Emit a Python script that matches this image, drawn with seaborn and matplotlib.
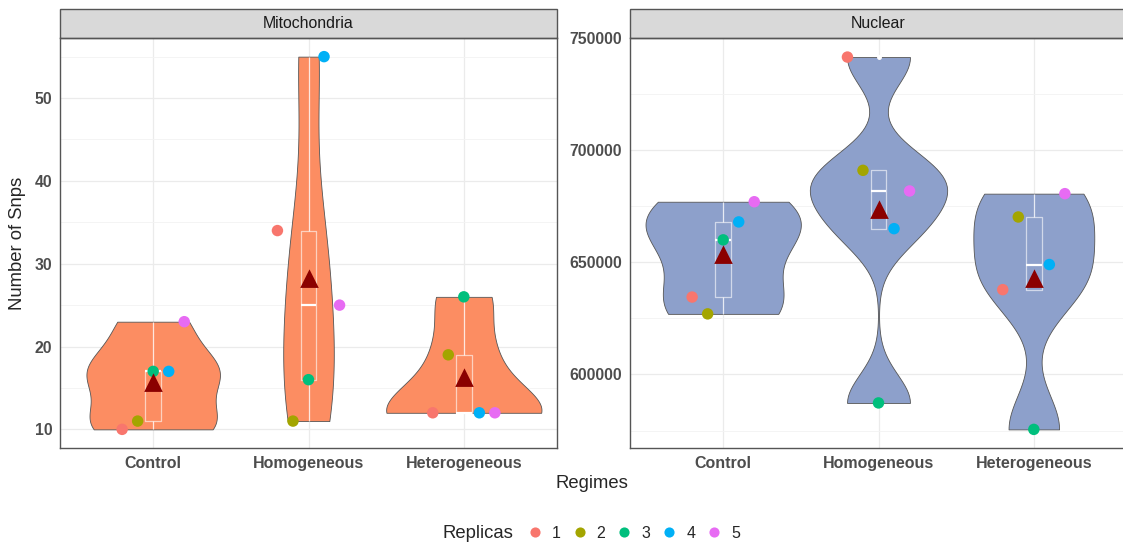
import numpy as np
import pandas as pd
import matplotlib
matplotlib.use("Agg")
import matplotlib.pyplot as plt
from matplotlib.lines import Line2D
from matplotlib.patches import Rectangle
from matplotlib.ticker import FixedLocator
import seaborn as sns

regimes = ["Control", "Homogeneous", "Heterogeneous"]
replicas = ["1", "2", "3", "4", "5"]

# number of snps per replica (1..5)
mito_control = [10, 11, 17, 17, 23]
mito_homogeneous = [34, 11, 16, 55, 25]
mito_heterogeneous = [12, 19, 26, 12, 12]

nuclear_control = [634500, 627000, 660000, 668000, 677000]
nuclear_homogeneous = [741500, 691000, 587300, 665000, 681800]
nuclear_heterogeneous = [637800, 670200, 575500, 649000, 680600]

mito_ticks = [10, 20, 30, 40, 50]
mito_minor = [15, 25, 35, 45, 55]
nuclear_ticks = [600000, 650000, 700000, 750000]
nuclear_minor = [575000, 625000, 675000, 725000]

replica_colors = ["#F8766D", "#A3A500", "#00BF7D", "#00B0F6", "#E76BF3"]


def make_frame(values_by_regime):
    rows = []
    for regime, values in zip(regimes, values_by_regime):
        for rep, v in zip(replicas, values):
            rows.append({"regime": regime, "replica": rep, "snps": v})
    df = pd.DataFrame(rows)
    # dodge the replicas side by side like position_dodge in ggplot
    df["pos"] = df["regime"].map(regimes.index) + (df["replica"].astype(int) - 3) * 0.1
    return df


def nrd0(kde):
    # R's default bandwidth (bw.nrd0) expressed as a gaussian_kde factor
    x = kde.dataset[0]
    sd = x.std(ddof=1)
    q25, q75 = np.percentile(x, [25, 75])
    lo = min(sd, (q75 - q25) / 1.34)
    return 0.9 * lo * len(x) ** -0.2 / sd


def draw_panel(ax, df, fill, ticks, minor, title):
    sns.violinplot(data=df, x="regime", y="snps", order=regimes, color=fill,
                   saturation=1, cut=0, width=1.0, inner=None, bw_method=nrd0,
                   linecolor="#555555", linewidth=0.6, ax=ax)
    sns.boxplot(data=df, x="regime", y="snps", order=regimes, width=0.1,
                fill=False, color="white", linewidth=0.9, whis=1.5,
                showcaps=False,
                boxprops=dict(alpha=0.6),
                whiskerprops=dict(alpha=0.8),
                medianprops=dict(linewidth=1.6),
                flierprops=dict(marker="o", markersize=2.5,
                                markerfacecolor="white", markeredgecolor="white"),
                ax=ax)
    sns.scatterplot(data=df, x="pos", y="snps", hue="replica", hue_order=replicas,
                    palette=replica_colors, s=68, linewidth=0, legend=False,
                    zorder=3, ax=ax)
    sns.pointplot(data=df, x="regime", y="snps", order=regimes, estimator="mean",
                  errorbar=None, marker="^", linestyle="none", color="#8B0000",
                  markersize=9.8, zorder=4, ax=ax)

    lo, hi = df["snps"].min(), df["snps"].max()
    pad = (hi - lo) * 0.05
    ax.set_ylim(lo - pad, hi + pad)
    ax.set_xlim(-0.6, 2.6)
    ax.set_xticks(range(len(regimes)))
    ax.set_xticklabels(regimes, fontsize=11.5, fontweight="bold", color="#4D4D4D")
    ax.set_yticks(ticks)
    ax.set_yticklabels([str(t) for t in ticks], fontsize=11.3, fontweight="bold",
                       color="#4D4D4D")
    ax.yaxis.set_minor_locator(FixedLocator(minor))
    ax.set_xlabel("")
    ax.set_ylabel("")

    ax.set_axisbelow(True)
    ax.grid(which="major", color="#EBEBEB", linewidth=0.9)
    ax.grid(which="minor", axis="y", color="#F3F3F3", linewidth=0.6)
    ax.tick_params(which="major", length=3.5, width=0.8, color="#333333", pad=2)
    ax.tick_params(which="minor", length=0)
    for sp in ax.spines.values():
        sp.set_visible(True)
        sp.set_color("#555555")
        sp.set_linewidth(1.0)

    # facet strip
    strip_h = 29 / 410
    ax.add_patch(Rectangle((0, 1), 1, strip_h, transform=ax.transAxes,
                           facecolor="#D9D9D9", edgecolor="#555555",
                           linewidth=1.0, clip_on=False))
    ax.text(0.5, 1 + strip_h / 2, title, transform=ax.transAxes, ha="center",
            va="center", fontsize=11.4, color="#1A1A1A")


sns.set_style("white")
plt.rcParams["font.family"] = ["Liberation Sans", "DejaVu Sans"]

mito = make_frame([mito_control, mito_homogeneous, mito_heterogeneous])
nuclear = make_frame([nuclear_control, nuclear_homogeneous, nuclear_heterogeneous])

W, H = 1123, 546
fig = plt.figure(figsize=(W / 100, H / 100), dpi=100)
ax1 = fig.add_axes([60 / W, 1 - 448 / H, 497 / W, 410 / H])
ax2 = fig.add_axes([630 / W, 1 - 448 / H, 497 / W, 410 / H])

draw_panel(ax1, mito, "#FC8D62", mito_ticks, mito_minor, "Mitochondria")
draw_panel(ax2, nuclear, "#8DA0CB", nuclear_ticks, nuclear_minor, "Nuclear")

fig.text(18 / W, 1 - 243 / H, "Number of Snps", rotation=90, ha="center",
         va="center", fontsize=13.3)
fig.text(592 / W, 1 - 484 / H, "Regimes", ha="center", va="center", fontsize=13.3)

# legend
fig.text(443 / W, 1 - 533 / H, "Replicas", ha="left", va="center", fontsize=13.3)
handles = [Line2D([], [], marker="o", linestyle="", markersize=7.3,
                  markerfacecolor=c, markeredgewidth=0) for c in replica_colors]
fig.legend(handles, replicas, loc="center left", bbox_to_anchor=(527 / W, 1 - 533 / H),
           ncol=5, frameon=False, fontsize=11.5, handlelength=1.0,
           handletextpad=0.56, columnspacing=0.69, borderpad=0, borderaxespad=0)

fig.savefig("out.png", dpi=100)
